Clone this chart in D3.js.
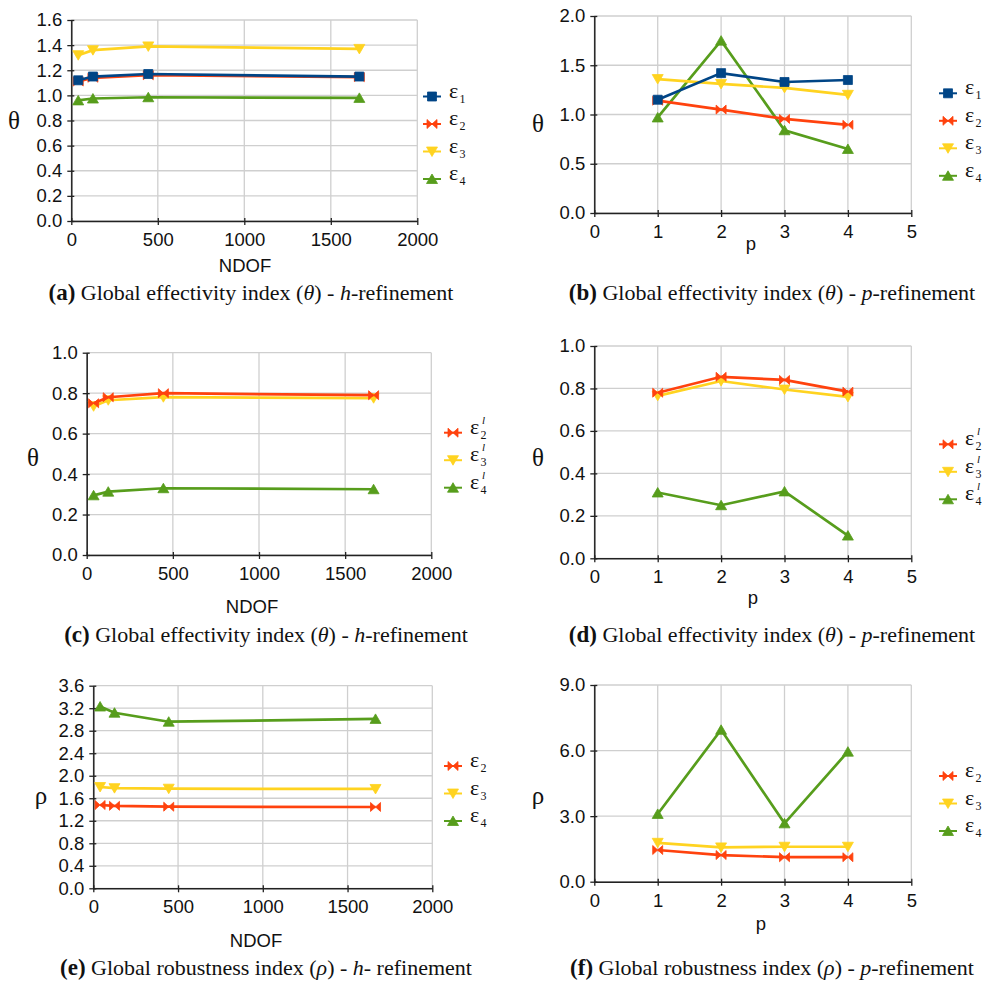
<!DOCTYPE html>
<html>
<head>
<meta charset="utf-8">
<script src="https://cdn.jsdelivr.net/npm/d3@7"></script>
<style>
  body { margin: 0; background: #fff; }
  svg { display: block; }
  .tick text { font-family: "Liberation Sans", Arial, sans-serif; font-size: 18.5px; fill: #111; }
  .axtitle { font-family: "Liberation Sans", Arial, sans-serif; font-size: 18.5px; fill: #111; }
  .sym { font-family: "Liberation Serif", "Times New Roman", serif; fill: #111; }
  .caption { font-family: "Liberation Serif", "Times New Roman", serif; font-size: 22px; fill: #111; }
</style>
</head>
<body>
<svg width="985" height="981"></svg>
<script>
// ---- data ----
var ndof = [40, 125, 445, 1665];
var pLevels = [1, 2, 3, 4];

// (a) theta, h-refinement
var thetaH1 = [1.12, 1.15, 1.17, 1.15];
var thetaH2 = [1.11, 1.14, 1.16, 1.145];
var thetaH3 = [1.32, 1.36, 1.39, 1.37];
var thetaH4 = [0.96, 0.975, 0.985, 0.98];
// (b) theta, p-refinement
var thetaP1 = [1.15, 1.42, 1.33, 1.35];
var thetaP2 = [1.14, 1.05, 0.955, 0.895];
var thetaP3 = [1.36, 1.31, 1.27, 1.2];
var thetaP4 = [0.97, 1.75, 0.84, 0.65];
// (c) theta (local), h-refinement
var thetaLH2 = [0.75, 0.78, 0.80, 0.79];
var thetaLH3 = [0.735, 0.765, 0.78, 0.775];
var thetaLH4 = [0.295, 0.313, 0.33, 0.325];
// (d) theta (local), p-refinement
var thetaLP2 = [0.78, 0.855, 0.84, 0.785];
var thetaLP3 = [0.765, 0.835, 0.795, 0.76];
var thetaLP4 = [0.31, 0.25, 0.315, 0.107];
// (e) rho, h-refinement
var rhoH2 = [1.48, 1.465, 1.45, 1.445];
var rhoH3 = [1.8, 1.78, 1.77, 1.765];
var rhoH4 = [3.23, 3.12, 2.96, 3.01];
// (f) rho, p-refinement
var rhoP2 = [1.45, 1.22, 1.12, 1.12];
var rhoP3 = [1.78, 1.57, 1.6, 1.6];
var rhoP4 = [3.1, 6.95, 2.67, 5.95];

// tick labels
var ndofTicks = [0, 500, 1000, 1500, 2000];
var pTicks = [0, 1, 2, 3, 4, 5];
var ticksA = [0, 0.2, 0.4, 0.6, 0.8, 1.0, 1.2, 1.4, 1.6];
var ticksB = [0, 0.5, 1.0, 1.5, 2.0];
var ticksCD = [0, 0.2, 0.4, 0.6, 0.8, 1.0];
var ticksE = [0, 0.4, 0.8, 1.2, 1.6, 2.0, 2.4, 2.8, 3.2, 3.6];
var ticksF = [0, 3, 6, 9];

// ---- styles ----
var colors = { e1: '#004586', e2: '#ff420e', e3: '#ffd320', e4: '#579d1c' };
var gridColor = '#cfcfcf';

function markerPath(type) {
    if (type == 'square') return 'M-4.5,-4.5H4.5V4.5H-4.5Z';
    if (type == 'up') return 'M-5.5,4.5L5.5,4.5L0,-5Z';
    if (type == 'down') return 'M-5.5,-4.5L5.5,-4.5L0,5Z';
    // bowtie
    return 'M-5,-4.5L5,4.5L5,-4.5L-5,4.5Z';
}

var svg = d3.select('svg');

function drawPanel(cfg) {
    var g = svg.append('g');
    var x = d3.scaleLinear().domain(cfg.xDomain).range([cfg.left, cfg.right]);
    var y = d3.scaleLinear().domain(cfg.yDomain).range([cfg.bottom, cfg.top]);

    // grid
    g.append('g').selectAll('line').data(cfg.yTicks).enter().append('line')
        .attr('x1', cfg.left).attr('x2', cfg.right)
        .attr('y1', function(d){ return y(d); }).attr('y2', function(d){ return y(d); })
        .attr('stroke', gridColor).attr('stroke-width', 1.3);
    g.append('g').selectAll('line').data(cfg.xTicks).enter().append('line')
        .attr('y1', cfg.top).attr('y2', cfg.bottom)
        .attr('x1', function(d){ return x(d); }).attr('x2', function(d){ return x(d); })
        .attr('stroke', gridColor).attr('stroke-width', 1.3);

    // axes
    var xa = g.append('g').attr('transform', 'translate(0,' + cfg.bottom + ')')
        .call(d3.axisBottom(x).tickValues(cfg.xTicks).tickSize(4).tickSizeOuter(0).tickPadding(8)
            .tickFormat(d3.format('d')));
    var ya = g.append('g').attr('transform', 'translate(' + cfg.left + ',0)')
        .call(d3.axisLeft(y).tickValues(cfg.yTicks).tickSize(4).tickSizeOuter(0).tickPadding(5)
            .tickFormat(d3.format('.1f')));
    xa.selectAll('.tick line').attr('y1', -3);
    ya.selectAll('.tick line').attr('x1', 3);
    [xa, ya].forEach(function(a){
        a.select('.domain').attr('stroke', '#222').attr('stroke-width', 1.5);
        a.selectAll('.tick line').attr('stroke', '#222').attr('stroke-width', 1.3);
    });

    // series, last first so the first series sits on top
    var line = d3.line()
        .x(function(d, i){ return x(cfg.xs[i]); })
        .y(function(d){ return y(d); });
    cfg.series.slice().reverse().forEach(function(s){
        g.append('path').datum(s.values)
            .attr('d', line).attr('fill', 'none')
            .attr('stroke', s.color).attr('stroke-width', 2.7);
        g.selectAll(null).data(s.values).enter().append('path')
            .attr('d', markerPath(s.marker))
            .attr('transform', function(d, i){ return 'translate(' + x(cfg.xs[i]) + ',' + y(d) + ')'; })
            .attr('fill', s.color).attr('stroke', s.color).attr('stroke-width', 0.8);
    });

    // legend
    cfg.series.forEach(function(s, i){
        var ly = cfg.legY + i * cfg.legStep;
        var lx = cfg.legX;
        g.append('line').attr('x1', lx - 9).attr('x2', lx + 9).attr('y1', ly).attr('y2', ly)
            .attr('stroke', s.color).attr('stroke-width', 2);
        g.append('path').attr('d', markerPath(s.marker))
            .attr('transform', 'translate(' + lx + ',' + ly + ')')
            .attr('fill', s.color).attr('stroke', s.color).attr('stroke-width', 0.8);
        g.append('text').attr('class', 'sym').attr('x', lx + 17).attr('y', ly + 1)
            .style('font-size', '22px').text('ε');
        g.append('text').attr('class', 'sym').attr('x', lx + 27.5).attr('y', ly + 6)
            .style('font-size', '12px').text(s.sub);
        if (cfg.local) {
            g.append('text').attr('class', 'sym').attr('x', lx + 29).attr('y', ly - 9)
                .style('font-size', '11px').style('font-style', 'italic').text('l');
        }
    });

    // axis titles
    g.append('text').attr('class', 'sym').attr('x', cfg.yLabX).attr('y', cfg.yLabY)
        .attr('text-anchor', 'middle').attr('dy', '0.35em').style('font-size', '25px')
        .text(cfg.yLabel);
    g.append('text').attr('class', 'axtitle').attr('x', cfg.xLabX).attr('y', cfg.xLabY)
        .attr('text-anchor', 'middle').text(cfg.xLabel);

    // caption
    var cap = g.append('text').attr('class', 'caption')
        .attr('x', cfg.capX).attr('y', cfg.capY).attr('text-anchor', 'middle');
    cfg.caption.forEach(function(part){
        var t = cap.append('tspan').text(part[0]);
        if (part[1] == 'b') t.style('font-weight', 'bold').style('font-size', '23px');
        if (part[1] == 'i') t.style('font-style', 'italic');
    });
}

function ser(values, key, marker, sub) {
    return { values: values, color: colors[key], marker: marker, sub: sub };
}

var panels = [
    { // (a)
        left: 71.3, right: 417.3, top: 20, bottom: 221,
        xDomain: [0, 2000], yDomain: [0, 1.6], xTicks: ndofTicks, yTicks: ticksA, xs: ndof,
        series: [ser(thetaH1, 'e1', 'square', '1'), ser(thetaH2, 'e2', 'bowtie', '2'),
                 ser(thetaH3, 'e3', 'down', '3'), ser(thetaH4, 'e4', 'up', '4')],
        legX: 432, legY: 96.5, legStep: 27.5,
        yLabel: 'θ', yLabX: 14, yLabY: 120, xLabel: 'NDOF', xLabX: 245, xLabY: 272,
        caption: [['(a)', 'b'], [' Global effectivity index ('], ['θ', 'i'], [') - '], ['h', 'i'], ['-refinement']],
        capX: 251, capY: 300
    },
    { // (b)
        left: 594.3, right: 911.3, top: 16, bottom: 213,
        xDomain: [0, 5], yDomain: [0, 2], xTicks: pTicks, yTicks: ticksB, xs: pLevels,
        series: [ser(thetaP1, 'e1', 'square', '1'), ser(thetaP2, 'e2', 'bowtie', '2'),
                 ser(thetaP3, 'e3', 'down', '3'), ser(thetaP4, 'e4', 'up', '4')],
        legX: 948, legY: 93.3, legStep: 27.5,
        yLabel: 'θ', yLabX: 538, yLabY: 123, xLabel: 'p', xLabX: 751, xLabY: 250,
        caption: [['(b)', 'b'], [' Global effectivity index ('], ['θ', 'i'], [') - '], ['p', 'i'], ['-refinement']],
        capX: 772, capY: 300
    },
    { // (c)
        left: 86.7, right: 431.3, top: 352.7, bottom: 555,
        xDomain: [0, 2000], yDomain: [0, 1], xTicks: ndofTicks, yTicks: ticksCD, xs: ndof,
        series: [ser(thetaLH2, 'e2', 'bowtie', '2'), ser(thetaLH3, 'e3', 'down', '3'),
                 ser(thetaLH4, 'e4', 'up', '4')],
        local: true,
        legX: 453, legY: 432.7, legStep: 27.5,
        yLabel: 'θ', yLabX: 33, yLabY: 457, xLabel: 'NDOF', xLabX: 252, xLabY: 613,
        caption: [['(c)', 'b'], [' Global effectivity index ('], ['θ', 'i'], [') - '], ['h', 'i'], ['-refinement']],
        capX: 266, capY: 642
    },
    { // (d)
        left: 594.3, right: 911.3, top: 346, bottom: 558.3,
        xDomain: [0, 5], yDomain: [0, 1], xTicks: pTicks, yTicks: ticksCD, xs: pLevels,
        series: [ser(thetaLP2, 'e2', 'bowtie', '2'), ser(thetaLP3, 'e3', 'down', '3'),
                 ser(thetaLP4, 'e4', 'up', '4')],
        local: true,
        legX: 948, legY: 444.3, legStep: 27.5,
        yLabel: 'θ', yLabX: 538, yLabY: 457, xLabel: 'p', xLabX: 753, xLabY: 604,
        caption: [['(d)', 'b'], [' Global effectivity index ('], ['θ', 'i'], [') - '], ['p', 'i'], ['-refinement']],
        capX: 772, capY: 642
    },
    { // (e)
        left: 93.3, right: 432.3, top: 685.7, bottom: 888.3,
        xDomain: [0, 2000], yDomain: [0, 3.6], xTicks: ndofTicks, yTicks: ticksE, xs: ndof,
        series: [ser(rhoH2, 'e2', 'bowtie', '2'), ser(rhoH3, 'e3', 'down', '3'),
                 ser(rhoH4, 'e4', 'up', '4')],
        legX: 453, legY: 766, legStep: 27.5,
        yLabel: 'ρ', yLabX: 41, yLabY: 795, xLabel: 'NDOF', xLabX: 256, xLabY: 947,
        caption: [['(e)', 'b'], [' Global robustness index ('], ['ρ', 'i'], [') - '], ['h', 'i'], ['- refinement']],
        capX: 266, capY: 975
    },
    { // (f)
        left: 594.3, right: 911.3, top: 685, bottom: 881.7,
        xDomain: [0, 5], yDomain: [0, 9], xTicks: pTicks, yTicks: ticksF, xs: pLevels,
        series: [ser(rhoP2, 'e2', 'bowtie', '2'), ser(rhoP3, 'e3', 'down', '3'),
                 ser(rhoP4, 'e4', 'up', '4')],
        legX: 948, legY: 776, legStep: 27.5,
        yLabel: 'ρ', yLabX: 538, yLabY: 795, xLabel: 'p', xLabX: 761, xLabY: 930,
        caption: [['(f)', 'b'], [' Global robustness index ('], ['ρ', 'i'], [') - '], ['p', 'i'], ['-refinement']],
        capX: 772, capY: 975
    }
];

panels.forEach(drawPanel);
</script>
</body>
</html>
